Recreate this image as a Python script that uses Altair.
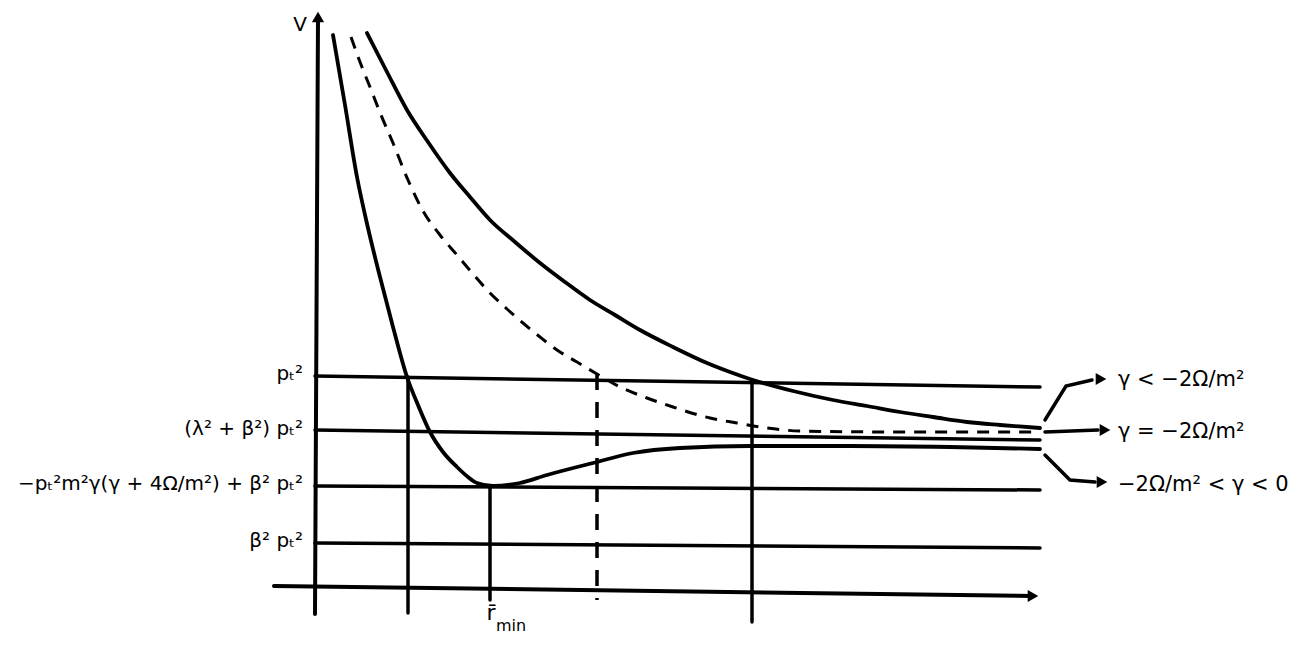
import altair as alt
import pandas as pd

# ---- values (r and V in arbitrary units) ----
# solid curve, -2Ω/m² < γ < 0 (has a minimum at r_min)
low_r = [18, 30, 42, 53, 65, 78, 92, 103, 115, 128, 142, 153, 162, 178, 205, 232, 278, 318, 365, 435, 535, 635, 725]
low_V = [552, 482, 410, 359, 310, 260, 210, 182, 155, 135, 120, 110, 104, 101, 104, 112, 124, 134, 139, 141, 141, 140, 138]

# dashed curve, γ = -2Ω/m²
mid_r = [36, 45, 55, 66, 78, 93, 108, 125, 142, 158, 175, 192, 208, 225, 242, 262, 282, 305, 332, 358, 395, 422, 452, 485, 585, 725]
mid_V = [550, 525, 500, 472, 444, 407, 376, 352, 332, 313, 294, 278, 264, 250, 237, 225, 213, 200, 189, 180, 169, 164, 159, 156, 155, 155]

# solid curve, γ < -2Ω/m²
up_r = [52, 72, 92, 113, 135, 155, 175, 200, 225, 250, 275, 300, 325, 358, 392, 415, 438, 478, 518, 552, 585, 618, 652, 685, 725]
up_V = [554, 515, 477, 445, 414, 390, 367, 345, 324, 305, 287, 272, 257, 240, 224, 215, 207, 196, 187, 181, 175, 170, 165, 162, 159]

# horizontal levels (left end, right end)
level_names = ["pt2", "lam", "min", "beta"]
level_V_left = [211, 157, 101, 44]
level_V_right = [200, 147, 97, 39]
level_r_right = 725

level_labels = ["pₜ²", "(λ² + β²) pₜ²", "−pₜ²m²γ(γ + 4Ω/m²) + β² pₜ²", "β² pₜ²"]
level_label_V = [213, 158, 103, 46]

# vertical drop lines: r, top V, bottom V
vert_r = [93, 175, 437]
vert_top = [210, 101, 204]
vert_bot = [-26, -13, -35]
dash_vert_r = [282]
dash_vert_top = [213]
dash_vert_bot = [-13]

# axes
xaxis_r = [-41, 718]
xaxis_V = [1, -9]
yaxis_r = [0, 3]
yaxis_V = [-27, 570]

# right-hand annotations
right_labels = ["γ < −2Ω/m²", "γ = −2Ω/m²", "−2Ω/m² < γ < 0"]
right_label_V = [207, 155, 102]
right_label_r = 803
arrow_paths = [
    ([730, 751, 777], [167, 201, 207]),
    ([730, 783], [155, 157]),
    ([730, 755, 780], [132, 107, 105]),
]
arrow_head_r = [786, 790, 787]
arrow_head_V = [208, 157, 105]

# ---- build tables ----
def rows(name, rs, vs):
    return [{"name": name, "i": k, "r": r, "V": v} for k, (r, v) in enumerate(zip(rs, vs))]

curve_df = pd.DataFrame(rows("low", low_r, low_V) + rows("up", up_r, up_V))

straight = []
for n, vl, vr in zip(level_names, level_V_left, level_V_right):
    straight += rows(n, [0, level_r_right], [vl, vr])
for k, (r, t, b) in enumerate(zip(vert_r, vert_top, vert_bot)):
    straight += rows(f"v{k}", [r, r], [t, b])
for k, (rs, vs) in enumerate(arrow_paths):
    straight += rows(f"a{k}", rs, vs)
straight_df = pd.DataFrame(straight)

axes_df = pd.DataFrame(rows("x", xaxis_r, xaxis_V) + rows("y", yaxis_r, yaxis_V))

dashed_curve_df = pd.DataFrame(rows("mid", mid_r, mid_V))
dashed_vert_df = pd.DataFrame(
    sum([rows(f"d{k}", [r, r], [t, b]) for k, (r, t, b) in enumerate(zip(dash_vert_r, dash_vert_top, dash_vert_bot))], [])
)

xs = alt.Scale(domain=[-307, 983], nice=False, zero=False)
ys = alt.Scale(domain=[-49, 579], nice=False, zero=False)
X = alt.X("r:Q", scale=xs, axis=None)
Y = alt.Y("V:Q", scale=ys, axis=None)

curves = alt.Chart(curve_df).mark_line(color="black", strokeWidth=3.8, strokeCap="round",
                                       interpolate="monotone").encode(
    x=X, y=Y, detail="name:N", order="i:Q")
straight_lines = alt.Chart(straight_df).mark_line(color="black", strokeWidth=3.5, strokeCap="round").encode(
    x=X, y=Y, detail="name:N", order="i:Q")
axes = alt.Chart(axes_df).mark_line(color="black", strokeWidth=4, strokeCap="round").encode(
    x=X, y=Y, detail="name:N", order="i:Q")
dashed_curve = alt.Chart(dashed_curve_df).mark_line(
    color="black", strokeWidth=3, strokeDash=[12, 9], interpolate="monotone").encode(
    x=X, y=Y, detail="name:N", order="i:Q")
dashed_vert = alt.Chart(dashed_vert_df).mark_line(
    color="black", strokeWidth=3.5, strokeDash=[16, 12]).encode(x=X, y=Y, detail="name:N", order="i:Q")

heads_df = pd.DataFrame({
    "r": [yaxis_r[1], xaxis_r[1]] + arrow_head_r,
    "V": [yaxis_V[1], xaxis_V[1]] + arrow_head_V,
    "shape": ["triangle-up", "triangle-right"] + ["triangle-right"] * 3,
})
heads = alt.Chart(heads_df).mark_point(filled=True, color="black", opacity=1, size=150).encode(
    x=X, y=Y, shape=alt.Shape("shape:N", scale=None))

left_df = pd.DataFrame({"label": level_labels, "V": level_label_V, "r": [-12] * 4})
left_text = alt.Chart(left_df).mark_text(align="right", baseline="middle", fontSize=20,
                                         font="DejaVu Sans", color="black").encode(x=X, y=Y, text="label:N")

right_df = pd.DataFrame({"label": right_labels, "V": right_label_V, "r": [right_label_r] * 3})
right_text = alt.Chart(right_df).mark_text(align="left", baseline="middle", fontSize=21,
                                           font="DejaVu Sans", color="black").encode(x=X, y=Y, text="label:N")

misc_df = pd.DataFrame({"label": ["V", "r̄", "min"], "r": [-15, 176, 196], "V": [562, -26, -39],
                        "size": [20, 22, 16]})
misc_text = alt.Chart(misc_df).mark_text(align="center", baseline="middle", font="DejaVu Sans",
                                         color="black").encode(
    x=X, y=Y, text="label:N", size=alt.Size("size:Q", scale=None, legend=None))

chart = alt.layer(straight_lines, curves, axes, dashed_curve, dashed_vert, heads,
                  left_text, right_text, misc_text).properties(
    width=1290, height=628, padding=0, autosize=alt.AutoSizeParams(type="none"),
    background="white",
).configure_view(stroke=None)

chart.save("out.html", embed_options={"renderer": "svg", "actions": False})
